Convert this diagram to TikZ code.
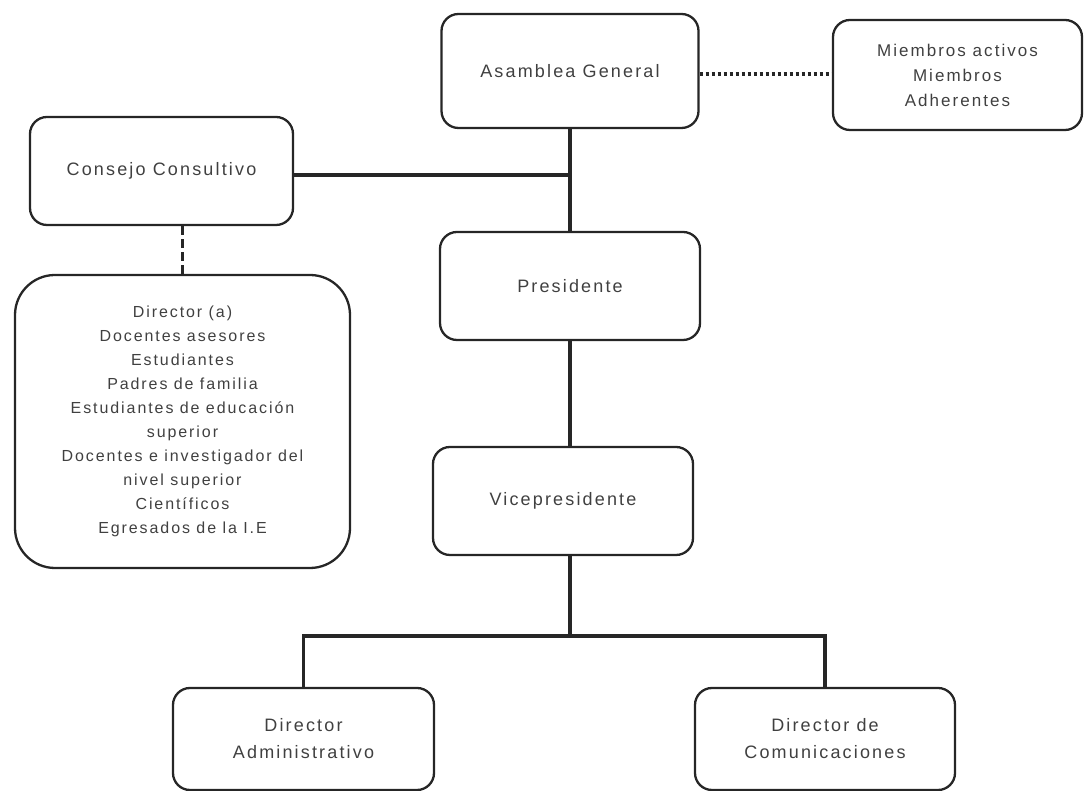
\documentclass[tikz,border=0pt]{standalone}
\usepackage{fontspec}
\setmainfont{Liberation Sans}[LetterSpace=12]
\begin{document}
\begin{tikzpicture}[x=1pt,y=1pt,
  box/.style={draw=black!85, line width=2.3pt, rounded corners=17pt, align=center,
    inner sep=0pt, text=black!75, font=\fontsize{18}{27}\selectfont},
  bigbox/.style={box, rounded corners=40pt, font=\fontsize{16}{24}\selectfont},
  link/.style={draw=black!85, line width=3.6pt},
  dotlink/.style={draw=black!85, line width=3.5pt, dash pattern=on 3pt off 3pt},
  dashlink/.style={draw=black!85, line width=3.8pt, dash pattern=on 9pt off 4pt}]
\useasboundingbox (0,0) rectangle (1087,791);
\node[box, minimum width=257pt, minimum height=114pt] (asam) at (570,720) {Asamblea General};
\node[box, minimum width=249pt, minimum height=110pt, font=\fontsize{17}{25}\selectfont] (miem) at (957.5,716) {Miembros activos\\Miembros\\Adherentes};
\node[box, minimum width=263pt, minimum height=108pt] (cons) at (161.5,620) {Consejo Consultivo};
\node[box, minimum width=260pt, minimum height=108pt] (pres) at (570,505) {Presidente};
\node[bigbox, minimum width=335pt, minimum height=293pt] (big) at (182.5,369.5) {Director (a)\\Docentes asesores\\Estudiantes\\Padres de familia\\Estudiantes de educación\\superior\\Docentes e investigador del\\nivel superior\\Científicos\\Egresados de la I.E};
\node[box, minimum width=260pt, minimum height=108pt] (vice) at (563,290) {Vicepresidente};
\node[box, minimum width=261pt, minimum height=102pt] (dadm) at (303.5,52) {Director\\Administrativo};
\node[box, minimum width=260pt, minimum height=102pt] (dcom) at (825,52) {Director de\\Comunicaciones};
\coordinate (j) at (570,155);
\path[link] (asam.south) -- (pres.north);
\path[link] ([yshift=-4pt]cons.east) -- ([yshift=-4pt]cons.east -| asam.south);
\path[link] (pres.south) -- (pres.south |- vice.north);
\path[link] (vice.south -| j) -- (j);
\path[link] (dadm.north) |- (j) -| (dcom.north);
\path[dotlink] ([yshift=-3pt]asam.east) -- ([yshift=-3pt]asam.east -| miem.west);
\path[dashlink] (cons.south -| big.north) -- (big.north);
\end{tikzpicture}
\end{document}
